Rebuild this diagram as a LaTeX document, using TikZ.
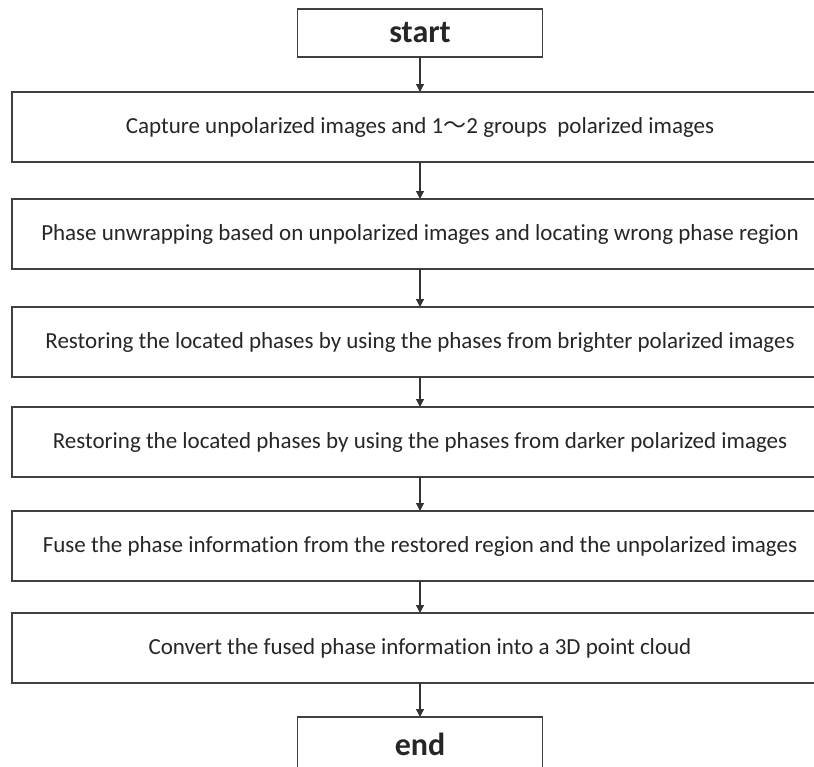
\documentclass[tikz,border=0pt]{standalone}
\usepackage{fontspec}
\setmainfont[Ligatures={NoCommon}]{Carlito}
\newfontfamily\cjkfont{Noto Sans CJK SC}
\usepackage{tikz}
\usetikzlibrary{arrows.meta, positioning}

\begin{document}
\begin{tikzpicture}[x=1pt, y=1pt, >={Triangle[length=8pt, width=8pt]},
    stepbox/.style={draw=black!75, line width=1.4pt, minimum width=816pt,
        minimum height=70pt, inner sep=0pt, outer sep=0pt, text=black!85,
        font=\fontsize{23}{27}\selectfont},
    termbox/.style={draw=black!75, line width=1.4pt, minimum width=245pt,
        minimum height=48pt, inner sep=0pt, outer sep=0pt, text=black!85,
        font=\fontsize{32}{36}\selectfont\bfseries},
    flow/.style={->, draw=black!80, line width=1.2pt}]
    % Khung hình
    \useasboundingbox (0,0) rectangle (814,-766);
    \clip (0,0) rectangle (814,-766);

    % Các bước của lưu đồ
    \node[termbox] (start) at (420,-33) {start};
    \node[stepbox, below=35pt of start] (capture)
        {Capture unpolarized images and 1{\cjkfont ～}2 groups\ \ polarized images};
    \node[stepbox, below=37pt of capture] (unwrap)
        {Phase unwrapping based on unpolarized images and locating wrong phase region};
    \node[stepbox, below=38pt of unwrap] (bright)
        {Restoring the located phases by using the phases from brighter polarized images};
    \node[stepbox, below=30pt of bright] (dark)
        {Restoring the located phases by using the phases from darker polarized images};
    \node[stepbox, below=34pt of dark] (fuse)
        {Fuse the phase information from the restored region and the unpolarized images};
    \node[stepbox, below=32pt of fuse] (convert)
        {Convert the fused phase information into a 3D point cloud};
    \node[termbox, below=34pt of convert, minimum height=54pt, text depth=0pt] (end) {end};

    % Các mũi tên nối
    \draw[flow] (start) -- (capture);
    \draw[flow] (capture) -- (unwrap);
    \draw[flow] (unwrap) -- (bright);
    \draw[flow] (bright) -- (dark);
    \draw[flow] (dark) -- (fuse);
    \draw[flow] (fuse) -- (convert);
    \draw[flow] (convert) -- (end);
\end{tikzpicture}
\end{document}
